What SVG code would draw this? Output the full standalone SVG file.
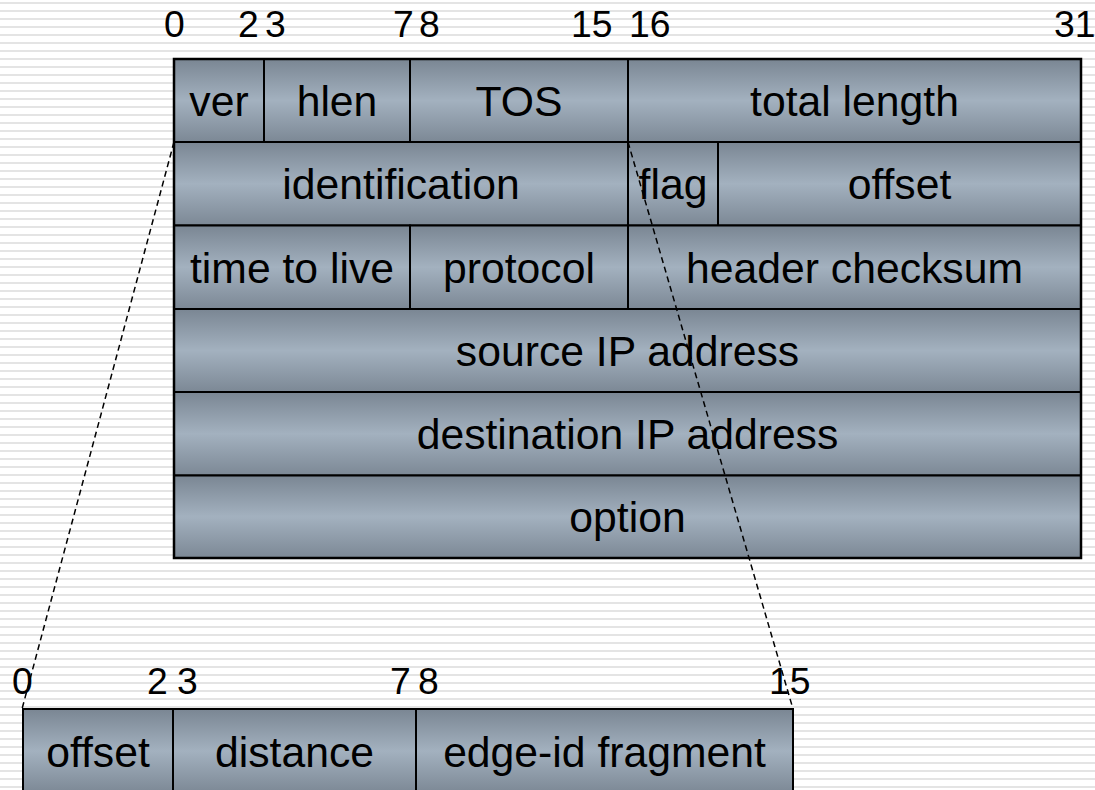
<svg xmlns="http://www.w3.org/2000/svg" width="1095" height="790" viewBox="0 0 1095 790">
  <defs>
    <!-- ruled-paper background -->
    <pattern id="ruled" x="0" y="0" width="1095" height="8" patternUnits="userSpaceOnUse">
      <rect x="0" y="0" width="1095" height="8" fill="#ffffff"/>
      <rect x="0" y="2" width="1095" height="2" fill="#e4e4e4"/>
    </pattern>
    <!-- steel-blue cell shading, darker at top and bottom -->
    <linearGradient id="cellFill" x1="0" y1="0" x2="0" y2="1">
      <stop offset="0" stop-color="#7a8693"/>
      <stop offset="0.5" stop-color="#a3b1bf"/>
      <stop offset="1" stop-color="#7c8895"/>
    </linearGradient>
    <style>
      .cell rect { fill: url(#cellFill); stroke: #000; stroke-width: 2; }
      .cell text { font-family: "Liberation Sans", Arial, sans-serif; font-size: 42.7px; fill: #000; text-anchor: middle; }
      .bits text { font-family: "Liberation Sans", Arial, sans-serif; font-size: 37.3px; fill: #000; }
      .zoom line { stroke: #000; stroke-width: 1.5; stroke-dasharray: 6 4; fill: none; }
      .frame { fill: none; stroke: #000; stroke-width: 2.5; }
    </style>
  </defs>

  <rect x="0" y="0" width="1095" height="790" fill="url(#ruled)"/>

  <!-- bit positions above the IP header -->
  <g id="bits-header" class="bits">
    <text x="164" y="37">0</text>
    <text x="238" y="37">2</text>
    <text x="265" y="37">3</text>
    <text x="393" y="37">7</text>
    <text x="419" y="37">8</text>
    <text x="571" y="37">15</text>
    <text x="629" y="37">16</text>
    <text x="1054" y="37">31</text>
  </g>

  <!-- IP header, row 1 -->
  <g id="ver" class="cell"><rect x="174" y="59" width="90" height="83"/><text x="219" y="116">ver</text></g>
  <g id="hlen" class="cell"><rect x="264" y="59" width="146" height="83"/><text x="337" y="116">hlen</text></g>
  <g id="tos" class="cell"><rect x="410" y="59" width="218" height="83"/><text x="519" y="116">TOS</text></g>
  <g id="total-length" class="cell"><rect x="628" y="59" width="453" height="83"/><text x="854.5" y="116">total length</text></g>

  <!-- row 2 -->
  <g id="identification" class="cell"><rect x="174" y="142" width="454" height="83.5"/><text x="401" y="199.3">identification</text></g>
  <g id="flag" class="cell"><rect x="628" y="142" width="90" height="83.5"/><text x="673" y="199.3">flag</text></g>
  <g id="offset" class="cell"><rect x="718" y="142" width="363" height="83.5"/><text x="899.5" y="199.3">offset</text></g>

  <!-- row 3 -->
  <g id="ttl" class="cell"><rect x="174" y="225.5" width="236" height="83.5"/><text x="292" y="282.8">time to live</text></g>
  <g id="protocol" class="cell"><rect x="410" y="225.5" width="218" height="83.5"/><text x="519" y="282.8">protocol</text></g>
  <g id="checksum" class="cell"><rect x="628" y="225.5" width="453" height="83.5"/><text x="854.5" y="282.8">header checksum</text></g>

  <!-- rows 4-6 -->
  <g id="src-ip" class="cell"><rect x="174" y="309" width="907" height="83"/><text x="627.5" y="366">source IP address</text></g>
  <g id="dst-ip" class="cell"><rect x="174" y="392" width="907" height="83.5"/><text x="627.5" y="449.3">destination IP address</text></g>
  <g id="option" class="cell"><rect x="174" y="475.5" width="907" height="82.5"/><text x="627.5" y="532.3">option</text></g>

  <rect class="frame" x="174" y="59" width="907" height="499"/>

  <!-- bit positions above the expanded identification field -->
  <g id="bits-ident" class="bits">
    <text x="12" y="694">0</text>
    <text x="147" y="694">2</text>
    <text x="177" y="694">3</text>
    <text x="390" y="694">7</text>
    <text x="418" y="694">8</text>
    <text x="769" y="694">15</text>
  </g>

  <!-- expanded identification field -->
  <g id="frag-offset" class="cell"><rect x="23" y="709" width="150" height="84"/><text x="98" y="767">offset</text></g>
  <g id="distance" class="cell"><rect x="173" y="709" width="243" height="84"/><text x="294.5" y="767">distance</text></g>
  <g id="edge-id" class="cell"><rect x="416" y="709" width="377" height="84"/><text x="604.5" y="767">edge-id fragment</text></g>

  <!-- projection lines from the identification field -->
  <g id="connectors" class="zoom">
    <line x1="174" y1="142" x2="22" y2="709"/>
    <line x1="628" y1="142" x2="793" y2="709"/>
  </g>
</svg>
